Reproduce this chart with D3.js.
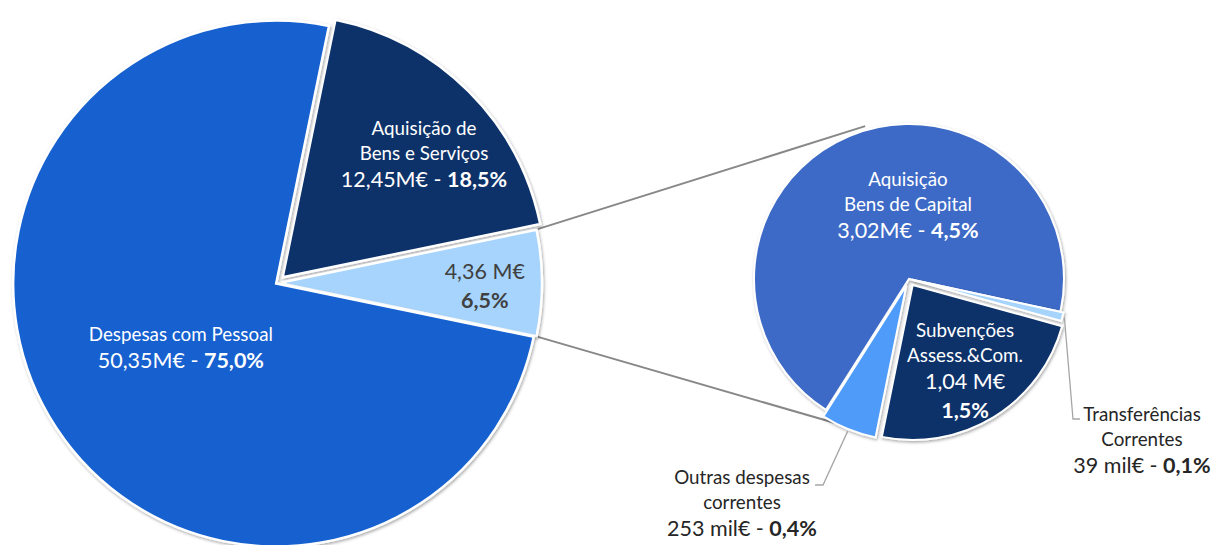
<!DOCTYPE html>
<html><head><meta charset="utf-8">
<script src="https://cdn.jsdelivr.net/npm/d3@7"></script>
<style>
body{margin:0;background:#fff;}
text{font-family:Lato,"Open Sans",sans-serif;}
</style>
</head><body>
<svg id="chart" width="1213" height="545"></svg>
<script>
// ---------- DATA ----------
const mainCategories = ["Aquisição de Bens e Serviços", "Outras (detalhe)", "Despesas com Pessoal"];
const mainValues = [12.45, 4.36, 50.35];
const mainNameLines = [["Aquisição de", "Bens e Serviços"], [], ["Despesas com Pessoal"]];
const mainValueText = ["12,45M€", "4,36 M€", "50,35M€"];
const mainPctText = ["18,5%", "6,5%", "75,0%"];

const subCategories = ["Aquisição Bens de Capital", "Transferências Correntes", "Subvenções Assess.&Com.", "Outras despesas correntes"];
const subValues = [3.02, 0.039, 1.04, 0.253];
const subNameLines = [["Aquisição", "Bens de Capital"], ["Transferências", "Correntes"], ["Subvenções", "Assess.&Com."], ["Outras despesas", "correntes"]];
const subValueText = ["3,02M€", "39 mil€", "1,04 M€", "253 mil€"];
const subPctText = ["4,5%", "0,1%", "1,5%", "0,4%"];

// ---------- STYLE / LAYOUT ----------
const mainColors = ["#0C326B", "#A6D4FC", "#1561D0"];
const subColors = ["#3D6AC6", "#A6D4FC", "#0C326B", "#4F9BFA"];
const mainTextColor = ["#ffffff", "#404040", "#ffffff"];
const subTextColor = ["#ffffff", "#262626", "#ffffff", "#262626"];
const mainSplit = [false, true, false];
const subSplit = [false, false, true, false];
const mainExplode = [8, 2, 1];
const subExplode = [0, 3, 7, 7];
const mainLabelPolar = [[0.744, 48.7], [0.79, 90.7], [0.44, 236.2]];
const subLabelPolar = [[0.48, -0.8], null, [0.69, 148.4], null];
const subOutsideLabel = [null, {x: 1142, y: 440, ex: -69, ey: -21, tx: -62}, null, {x: 742, y: 503, ex: 81, ey: -18, tx: 73}];

const W = 1213, H = 545;
const C0 = {x: 277, y: 283}, R = 263;
const C1 = {x: 909, y: 279}, r = 155;
const NAME_SIZE = 18.8, VALUE_SIZE = 21.5;

const svg = d3.select("#chart");
const defs = svg.append("defs");
const f = defs.append("filter").attr("id", "sh").attr("x", "-10%").attr("y", "-10%").attr("width", "120%").attr("height", "120%");
f.append("feDropShadow").attr("dx", 1).attr("dy", 1.5).attr("stdDeviation", 1.5).attr("flood-color", "#000").attr("flood-opacity", 0.35);

const deg = Math.PI / 180;
const mainTotal = d3.sum(mainValues);
const otherShare = mainValues[1] / mainTotal;
const aqShare = mainValues[0] / mainTotal;
// rotate so that the "other" slice is centred at 3 o'clock
const mainStart = Math.PI / 2 - otherShare * Math.PI - aqShare * 2 * Math.PI;

const pieMain = d3.pie().sort(null).value(d => d).startAngle(mainStart).endAngle(mainStart + 2 * Math.PI);
const pieSub = d3.pie().sort(null).value(d => d).startAngle(-147.6 * deg).endAngle(-147.6 * deg + 2 * Math.PI);

const arcMain = d3.arc().innerRadius(0).outerRadius(R);
const arcSub = d3.arc().innerRadius(0).outerRadius(r);

const mainArcs = pieMain(mainValues);
const subArcs = pieSub(subValues);

function dir(a) { return [Math.sin(a), -Math.cos(a)]; }
function mid(d) { return (d.startAngle + d.endAngle) / 2; }

// connectors (drawn under pies)
const other = mainArcs[1];
const oc = dir(mid(other)).map(v => v * mainExplode[1]);
const Rc = R - 3;
const p1 = [C0.x + oc[0] + Rc * Math.sin(other.startAngle), C0.y + oc[1] - Rc * Math.cos(other.startAngle)];
const p2 = [C0.x + oc[0] + Rc * Math.sin(other.endAngle), C0.y + oc[1] - Rc * Math.cos(other.endAngle)];
const q1 = [C1.x + (r + 4) * Math.sin(-16 * deg), C1.y - (r + 4) * Math.cos(-16 * deg)];
const q2 = [C1.x + (r + 4) * Math.sin(-165 * deg), C1.y - (r + 4) * Math.cos(-165 * deg)];
const conn = svg.append("g").attr("stroke", "#888888").attr("stroke-width", 2).attr("fill", "none");
conn.append("line").attr("x1", p1[0]).attr("y1", p1[1]).attr("x2", q1[0]).attr("y2", q1[1]);
conn.append("line").attr("x1", p2[0]).attr("y1", p2[1]).attr("x2", q2[0]).attr("y2", q2[1]);

// main pie
const gMain = svg.append("g");
gMain.selectAll("path").data(mainArcs).join("path")
  .attr("transform", (d, i) => { const v = dir(mid(d)); return `translate(${C0.x + v[0] * mainExplode[i]},${C0.y + v[1] * mainExplode[i]})`; })
  .attr("d", arcMain).attr("fill", (d, i) => mainColors[i])
  .attr("stroke", "#fff").attr("stroke-width", 2.5).attr("stroke-linejoin", "miter")
  .attr("filter", "url(#sh)");

// sub pie
const gSub = svg.append("g");
gSub.selectAll("path").data(subArcs).join("path")
  .attr("transform", (d, i) => { const v = dir(mid(d)); return `translate(${C1.x + v[0] * subExplode[i]},${C1.y + v[1] * subExplode[i]})`; })
  .attr("d", arcSub).attr("fill", (d, i) => subColors[i])
  .attr("stroke", "#fff").attr("stroke-width", 2).attr("stroke-linejoin", "miter")
  .attr("filter", "url(#sh)");

function buildLines(names, val, pct, split) {
  const lines = names.map(n => ({size: NAME_SIZE, segs: [[n, false]]}));
  if (split) {
    lines.push({size: VALUE_SIZE, segs: [[val, false]]});
    lines.push({size: VALUE_SIZE, segs: [[pct, true]]});
  } else {
    lines.push({size: VALUE_SIZE, segs: [[val + " - ", false], [pct, true]]});
  }
  return lines;
}
function drawLabel(g, x, y, lines, color) {
  const lh = lines.map(l => l.size * 1.34);
  let cy = y - d3.sum(lh) / 2;
  lines.forEach((l, i) => {
    cy += lh[i] / 2;
    const t = g.append("text").attr("x", x).attr("y", cy).attr("text-anchor", "middle")
      .attr("dominant-baseline", "central").attr("font-size", l.size).attr("fill", color);
    l.segs.forEach(s => t.append("tspan").text(s[0]).attr("font-weight", s[1] ? 700 : 400));
    cy += lh[i] / 2;
  });
}

const gLab = svg.append("g");
mainArcs.forEach((d, i) => {
  const [k, a] = mainLabelPolar[i];
  const x = C0.x + R * k * Math.sin(a * deg), y = C0.y - R * k * Math.cos(a * deg);
  drawLabel(gLab, x, y, buildLines(mainNameLines[i], mainValueText[i], mainPctText[i], mainSplit[i]), mainTextColor[i]);
});
subArcs.forEach((d, i) => {
  const lines = buildLines(subNameLines[i], subValueText[i], subPctText[i], subSplit[i]);
  if (subLabelPolar[i]) {
    const [k, a] = subLabelPolar[i];
    const x = C1.x + r * k * Math.sin(a * deg), y = C1.y - r * k * Math.cos(a * deg);
    drawLabel(gLab, x, y, lines, subTextColor[i]);
  } else {
    const o = subOutsideLabel[i];
    const v = dir(mid(d));
    const cx = C1.x + v[0] * subExplode[i], cy = C1.y + v[1] * subExplode[i];
    const s = [cx + (r + 2) * v[0], cy + (r + 2) * v[1]];
    svg.append("polyline").attr("fill", "none").attr("stroke", "#a6a6a6").attr("stroke-width", 1.3)
      .attr("points", [s, [o.x + o.ex, o.y + o.ey], [o.x + o.tx, o.y + o.ey]].map(p => p.join(",")).join(" "));
    drawLabel(gLab, o.x, o.y, lines, subTextColor[i]);
  }
});
</script>
</body></html>
